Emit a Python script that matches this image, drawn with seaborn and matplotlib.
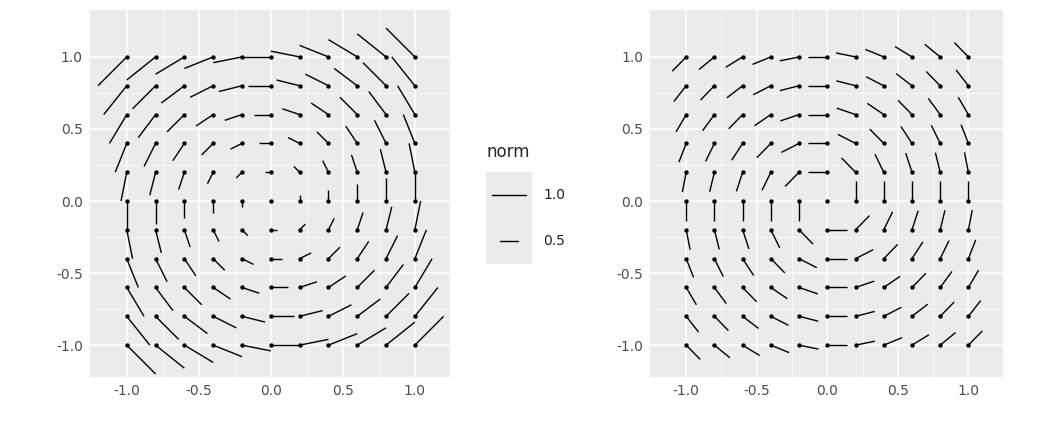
import numpy as np
import pandas as pd
import matplotlib
matplotlib.use("Agg")
import matplotlib.pyplot as plt
import seaborn as sns
from matplotlib.collections import LineCollection

grid_x = [-1.0, -0.8, -0.6, -0.4, -0.2, 0.0, 0.2, 0.4, 0.6, 0.8, 1.0]
grid_y = [-1.0, -0.8, -0.6, -0.4, -0.2, 0.0, 0.2, 0.4, 0.6, 0.8, 1.0]
ticks = [-1.0, -0.5, 0.0, 0.5, 1.0]
tick_labels = ["-1.0", "-0.5", "0.0", "0.5", "1.0"]
legend_values = [1.0, 0.5]

X, Y = np.meshgrid(grid_x, grid_y)
df = pd.DataFrame({"x": X.ravel(), "y": Y.ravel()})
df["dx"] = -df["y"]
df["dy"] = df["x"]
df["norm"] = np.sqrt(df.dx**2 + df.dy**2)

sns.set_theme(style="darkgrid", rc={"axes.facecolor": "#EBEBEB", "grid.color": "white"})
plt.rcParams['font.family'] = ['DejaVu Sans']
fig = plt.figure(figsize=(10.56, 4.32), dpi=100)
ax1 = fig.add_axes([0.085, 0.127, 0.341, 0.85])
ax2 = fig.add_axes([0.6155, 0.127, 0.334, 0.85])

def style(ax):
    ax.set_xlim(-1.257, 1.243)
    ax.set_ylim(-1.222, 1.326)
    ax.set_xticks(ticks); ax.set_xticklabels(tick_labels)
    ax.set_yticks(ticks); ax.set_yticklabels(tick_labels)
    ax.set_xticks([-0.75, -0.25, 0.25, 0.75], minor=True)
    ax.set_yticks([-0.75, -0.25, 0.25, 0.75], minor=True)
    ax.grid(True, which="major", color="white", lw=1.1)
    ax.grid(True, which="minor", color="white", lw=0.5)
    ax.tick_params(which="major", length=3, color="#333333", labelsize=10, labelcolor="#4D4D4D", pad=2)
    ax.tick_params(which="minor", length=0)
    for s in ax.spines.values():
        s.set_visible(False)
    ax.set_xlabel(""); ax.set_ylabel("")

s1 = 0.2
segs1 = [[(r.x, r.y), (r.x + s1 * r.dx, r.y + s1 * r.dy)] for r in df.itertuples()]
ax1.add_collection(LineCollection(segs1, colors="black", lw=1.0))
sns.scatterplot(data=df, x="x", y="y", ax=ax1, color="black", s=10, edgecolor="black", linewidth=0, legend=False)
style(ax1)

s2 = 0.14
segs2 = []
for r in df.itertuples():
    if r.norm == 0:
        segs2.append([(r.x, r.y), (r.x, r.y)])
    else:
        segs2.append([(r.x, r.y), (r.x + s2 * r.dx / r.norm, r.y + s2 * r.dy / r.norm)])
ax2.add_collection(LineCollection(segs2, colors="black", lw=1.0))
sns.scatterplot(data=df, x="x", y="y", ax=ax2, color="black", s=10, edgecolor="black", linewidth=0, legend=False)
style(ax2)

fig.text(486/1056, 1 - 152/432, "norm", fontsize=12, va="center", ha="left")
for i, v in enumerate(legend_values):
    yc = 195 + i * 46
    box = fig.add_axes([486/1056, 1 - (yc + 23)/432, 46/1056, 46/432])
    box.set_facecolor("#EBEBEB")
    box.set_xlim(-1, 1); box.set_ylim(-1, 1)
    box.set_xticks([]); box.set_yticks([])
    for s in box.spines.values():
        s.set_visible(False)
    half = 0.75 * v
    box.plot([-half, half], [0, 0], color="black", lw=1.0)
    fig.text(543/1056, 1 - yc/432, f"{v:.1f}", fontsize=10, va="center", ha="left", color="#222222")

fig.savefig("out.png", dpi=100)
